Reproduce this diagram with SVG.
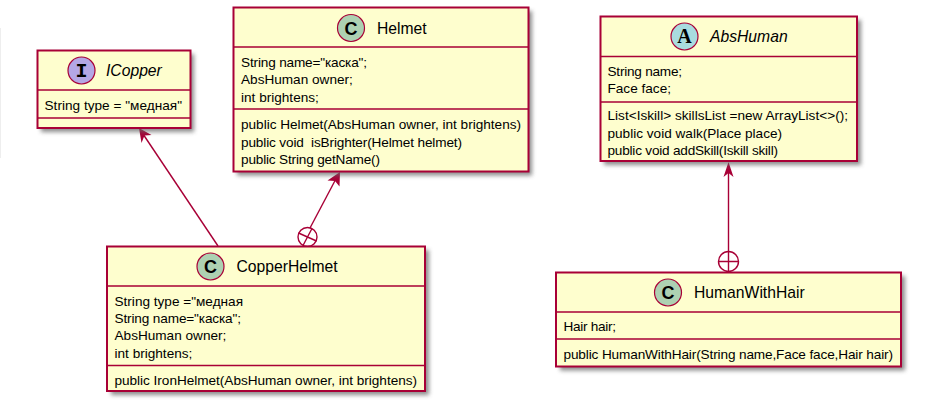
<svg xmlns="http://www.w3.org/2000/svg" width="936" height="406" viewBox="0 0 936 406">
<style>
text{font-family:"Liberation Sans",Arial,sans-serif;font-size:13.6px;fill:#000;white-space:pre}
.t{font-size:15.7px}
.i{font-style:italic}
.g{font-size:18px;font-weight:bold;text-anchor:middle}
.a{font-family:"Liberation Serif",serif;font-size:20px}
.m{font-family:"Liberation Mono",monospace;font-size:20px}
.b{fill:#FEFECE;stroke:#A80036;stroke-width:2}
.s{fill:none;stroke:#A80036;stroke-width:1.5}
.c{stroke:#A80036;stroke-width:1.2}
.con{fill:none;stroke:#A80036;stroke-width:1.4}
.h{fill:#A80036;stroke:none}
.d{fill:#666;opacity:.75}
</style>
<defs>
<filter id="sh" x="-10%" y="-10%" width="120%" height="125%"><feGaussianBlur stdDeviation="2"/></filter>
</defs>
<rect x="0" y="28" width="1" height="130" fill="#eeeeee"/>
<g id="connectors">
<path class="con" d="M218 246 L141 131"/>
<path class="h" d="M139 128 L151.500 135 L144.500 135.500 L141.500 143 Z"/>
<path class="con" d="M310 228 L338 175"/>
<path class="h" d="M340 172 L339.500 186.500 L335 181 L327.500 180.500 Z"/>
<circle class="con" cx="307.500" cy="237" r="9.500" fill="#fff"/>
<path class="con" d="M298.500 233 L316.500 241 M312 228.500 L303 245.500"/>
<path class="con" d="M728.500 166 L728.500 252"/>
<path class="h" d="M728.500 162 L733.500 177 L728.500 173 L723.500 177 Z"/>
<circle class="con" cx="728.500" cy="261.500" r="10" fill="#fff"/>
<path class="con" d="M718.500 261.500 L738.500 261.500 M728.500 251.500 L728.500 271.500"/>
</g>
<g id="ICopper">
<rect class="d" x="41" y="54" width="153" height="78" filter="url(#sh)"/>
<rect class="b" x="37.500" y="50.500" width="153" height="77.500"/>
<path class="s" d="M37.500 90 H190.500 M37.500 118 H190.500"/>
<circle class="c" cx="81.500" cy="70.500" r="13.500" fill="#B4A7E5"/>
<text class="g m" x="81.500" y="77">I</text>
<text class="t i" x="106" y="76">ICopper</text>
<text x="44.500" y="110" textLength="137.500">String type = "медная"</text>
</g>
<g id="Helmet">
<rect class="d" x="237" y="11" width="295" height="164.500" filter="url(#sh)"/>
<rect class="b" x="233.500" y="7.500" width="295" height="164"/>
<path class="s" d="M233.500 47 H528.500 M233.500 109 H528.500"/>
<circle class="c" cx="351" cy="28" r="13.500" fill="#ADD1B2"/>
<text class="g" x="351" y="34.500">C</text>
<text class="t" x="377" y="33.500">Helmet</text>
<text x="241" y="66.500" textLength="126">String name="каска";</text>
<text x="241" y="84">AbsHuman owner;</text>
<text x="241" y="101.500">int brightens;</text>
<text x="241" y="129" textLength="280">public Helmet(AbsHuman owner, int brightens)</text>
<text x="241" y="146.500" textLength="221">public void  isBrighter(Helmet helmet)</text>
<text x="241" y="164" textLength="139">public String getName()</text>
</g>
<g id="AbsHuman">
<rect class="d" x="604" y="20" width="257" height="145" filter="url(#sh)"/>
<rect class="b" x="600.500" y="16.500" width="256.500" height="144.500"/>
<path class="s" d="M600.500 56.500 H857 M600.500 102 H857"/>
<circle class="c" cx="684.500" cy="36.500" r="13.500" fill="#A9DCDF"/>
<text class="g a" x="684.500" y="43">A</text>
<text class="t i" x="710" y="42">AbsHuman</text>
<text x="607.500" y="76" textLength="74.500">String name;</text>
<text x="607.500" y="93">Face face;</text>
<text x="607.500" y="120" textLength="240.500">List&lt;Iskill&gt; skillsList =new ArrayList&lt;&gt;();</text>
<text x="607.500" y="137.500">public void walk(Place place)</text>
<text x="607.500" y="154.500" textLength="170.500">public void addSkill(Iskill skill)</text>
</g>
<g id="CopperHelmet">
<rect class="d" x="111" y="250" width="318" height="145" filter="url(#sh)"/>
<rect class="b" x="107" y="246.500" width="318" height="144.500"/>
<path class="s" d="M107 286 H425 M107 365.500 H425"/>
<circle class="c" cx="210.500" cy="266.500" r="13.500" fill="#ADD1B2"/>
<text class="g" x="210.500" y="273">C</text>
<text class="t" x="236.500" y="272">CopperHelmet</text>
<text x="114.500" y="306">String type ="медная</text>
<text x="114.500" y="323" textLength="126.500">String name="каска";</text>
<text x="114.500" y="340">AbsHuman owner;</text>
<text x="114.500" y="357.500">int brightens;</text>
<text x="114.500" y="385" textLength="302.500">public IronHelmet(AbsHuman owner, int brightens)</text>
</g>
<g id="HumanWithHair">
<rect class="d" x="560" y="276" width="345" height="94.500" filter="url(#sh)"/>
<rect class="b" x="556" y="272.500" width="345" height="94"/>
<path class="s" d="M556 312 H901 M556 339 H901"/>
<circle class="c" cx="668" cy="292.500" r="13.500" fill="#ADD1B2"/>
<text class="g" x="668" y="299">C</text>
<text class="t" x="694" y="298">HumanWithHair</text>
<text x="563.500" y="331" textLength="52.500">Hair hair;</text>
<text x="563.500" y="358.500" textLength="329.500">public HumanWithHair(String name,Face face,Hair hair)</text>
</g>
</svg>
